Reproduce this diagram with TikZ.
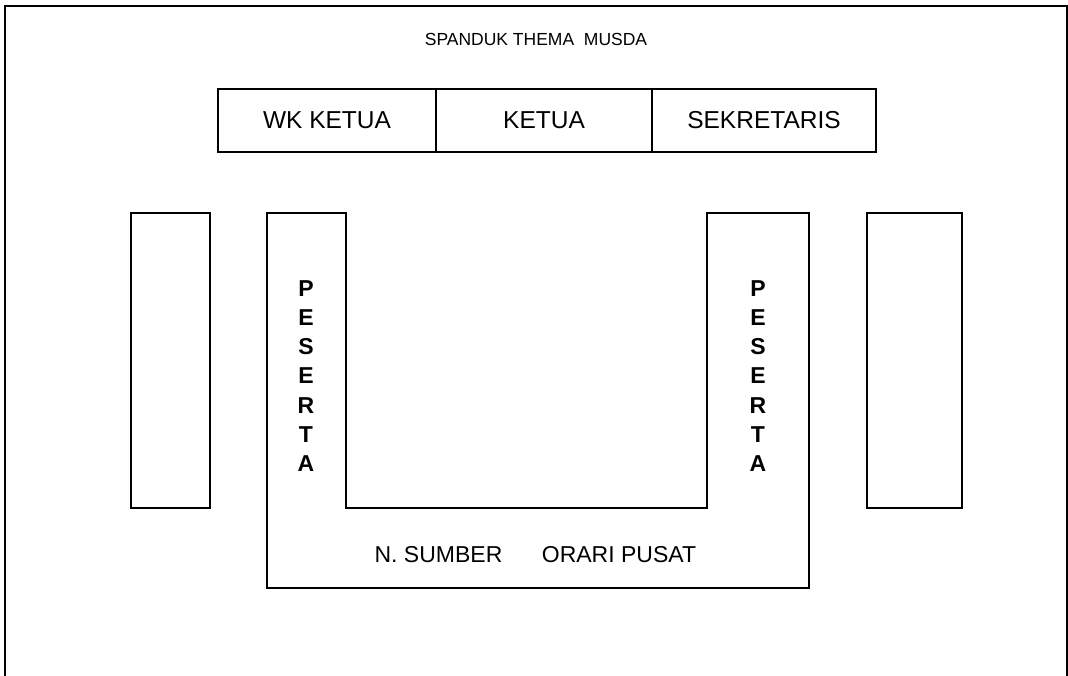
\documentclass[tikz,border=0pt]{standalone}
\usepackage{fontspec}
\setmainfont{Liberation Sans}
\begin{document}
\begin{tikzpicture}[x=1pt,y=-1pt,line width=2pt,
  every node/.style={inner sep=0pt,outer sep=0pt},
  seat/.style={draw,minimum height=63pt,font=\fontsize{24.5}{29}\selectfont},
  sidebox/.style={draw,minimum height=295pt},
  letters/.style={align=center,font=\bfseries\fontsize{23}{29.3}\selectfont},
  label/.style={anchor=base,font=\fontsize{23}{28}\selectfont}]
\useasboundingbox (0,0) rectangle (1068,676);
% frame, open at the bottom
\draw (5,680) -- (5,6) -- (1067,6) -- (1067,680);
\node[anchor=base,font=\fontsize{17.5}{21}\selectfont] (spanduk) at (536,46) {SPANDUK THEMA \ MUSDA};
% head table
\node[seat,minimum width=218pt] (wk) at (327,120.5) {WK KETUA};
\node[seat,minimum width=216pt] (ketua) at (544,120.5) {KETUA};
\node[seat,minimum width=224pt] (sek) at (764,120.5) {SEKRETARIS};
% side tables
\node[sidebox,minimum width=79pt] (sl) at (170.5,360.5) {};
\node[sidebox,minimum width=95pt] (sr) at (914.5,360.5) {};
% U table
\draw (267,213) -- (346,213) -- (346,508) -- (707,508) -- (707,213)
  -- (809,213) -- (809,588) -- (267,588) -- cycle;
\node[letters] (pl) at (306,376) {P\\E\\S\\E\\R\\T\\A};
\node[letters] (pr) at (758,376) {P\\E\\S\\E\\R\\T\\A};
\node[label] (nsumber) at (438.5,562) {N. SUMBER};
\node[label] (orari) at (619,562) {ORARI PUSAT};
\end{tikzpicture}
\end{document}
